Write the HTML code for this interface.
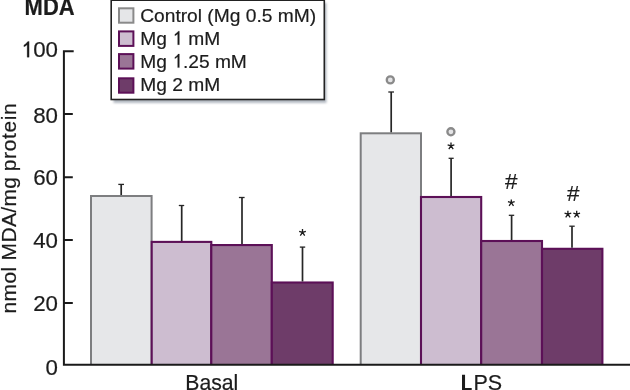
<!DOCTYPE html>
<html>
<head>
<meta charset="utf-8">
<title>MDA</title>
<style>
html,body{margin:0;padding:0;background:#fff;}
body{width:630px;height:390px;overflow:hidden;font-family:"Liberation Sans",sans-serif;}
svg{display:block;opacity:0.999;}
text{font-family:"Liberation Sans",sans-serif;fill:#1c1c1c;stroke:#1c1c1c;stroke-width:0.2px;}
</style>
</head>
<body>
<svg width="630" height="390" viewBox="0 0 630 390">
  <defs>
    <filter id="sh" x="-10%" y="-10%" width="130%" height="130%">
      <feGaussianBlur stdDeviation="0.8"/>
    </filter>
  </defs>
  <rect x="0" y="0" width="630" height="390" fill="#ffffff"/>

  <!-- title -->
  <text transform="translate(24.6 15.3) scale(1 1.06)" font-size="22" font-weight="bold" stroke-width="0">MDA</text>

  <!-- legend -->
  <rect x="113.5" y="3" width="213" height="100" fill="#b4bac2" filter="url(#sh)"/>
  <rect x="111.2" y="0.2" width="213.1" height="99.3" fill="#ffffff" stroke="#222222" stroke-width="1.6"/>
  <rect x="119" y="8.3" width="14.4" height="14.4" fill="#e5e6e8" stroke="#8a8a8a" stroke-width="2"/>
  <rect x="119" y="31.4" width="14.4" height="14.5" fill="#cdbdd0" stroke="#5c1057" stroke-width="2"/>
  <rect x="119" y="54.1" width="14.4" height="14.5" fill="#9a7596" stroke="#5c1057" stroke-width="2"/>
  <rect x="119" y="78.3" width="14.4" height="14.4" fill="#6e3c69" stroke="#5c1057" stroke-width="2"/>
  <g font-size="19.2">
  <text x="140.2" y="22.3">Control (Mg 0.5 mM)</text>
  <text x="140.2" y="44.7">Mg</text><path d="M763 0H583V1147Q530 1095 440 1040T285 955V1115Q410 1180 500 1275T647 1445H763Z" fill="#1c1c1c" stroke="#1c1c1c" stroke-width="24" transform="translate(172.21 44.7) scale(0.009375 -0.009375)"/><text x="188.22" y="44.7">mM</text>
  <text x="140.2" y="67.6">Mg</text><path d="M763 0H583V1147Q530 1095 440 1040T285 955V1115Q410 1180 500 1275T647 1445H763Z" fill="#1c1c1c" stroke="#1c1c1c" stroke-width="24" transform="translate(172.21 67.6) scale(0.009375 -0.009375)"/><text x="182.88" y="67.6">.25 mM</text>
  <text x="140.2" y="90.5">Mg 2 mM</text>
  </g>

  <clipPath id="cp"><rect x="0" y="0" width="630" height="364.75"/></clipPath>
  <g clip-path="url(#cp)">
  <!-- bars: Basal -->
  <rect x="91" y="196" width="60.6" height="170" fill="#e6e7e9" stroke="#7d7e80" stroke-width="2"/>
  <rect x="151.7" y="241.9" width="59.6" height="124" fill="#cdbdd0" stroke="#5c1057" stroke-width="2.1"/>
  <rect x="211.3" y="245.05" width="60.5" height="121" fill="#9a7596" stroke="#5c1057" stroke-width="2.1"/>
  <rect x="271.8" y="282.5" width="60.9" height="84" fill="#6e3c69" stroke="#5c1057" stroke-width="2.1"/>
  <!-- bars: LPS -->
  <rect x="360.7" y="133.3" width="60.3" height="233" fill="#e6e7e9" stroke="#7d7e80" stroke-width="2"/>
  <rect x="421" y="197" width="60.2" height="170" fill="#cdbdd0" stroke="#5c1057" stroke-width="2.1"/>
  <rect x="481.2" y="241" width="60.8" height="125" fill="#9a7596" stroke="#5c1057" stroke-width="2.1"/>
  <rect x="542" y="248.8" width="60.4" height="118" fill="#6e3c69" stroke="#5c1057" stroke-width="2.1"/>
  </g>

  <!-- error bars -->
  <g stroke="#262626" fill="none">
    <g stroke-width="1.7">
      <path d="M121.2 195V184.4"/>
      <path d="M181.7 241V205.5"/>
      <path d="M242 244V197.5"/>
      <path d="M302.5 281.5V247"/>
      <path d="M391.2 132.3V92"/>
      <path d="M451.1 196V158.3"/>
      <path d="M511.6 240V215.3"/>
      <path d="M572 247.8V226.2"/>
    </g>
    <g stroke-width="1.3">
      <path d="M118.3 184.4H124"/>
      <path d="M178.8 205.5H184.2"/>
      <path d="M238.9 197.5H244.6"/>
      <path d="M299.8 247.1H305.2"/>
      <path d="M388.3 92H394"/>
      <path d="M448.6 158.3H453.7"/>
      <path d="M508.8 215.3H514.2"/>
      <path d="M569.3 226.2H574.7"/>
    </g>
  </g>

  <!-- axes -->
  <g stroke="#1a1a1a" stroke-width="2" fill="none">
    <path d="M73.7 51.3H63.9V364.75H630"/>
    <path d="M64 114H72.8M64 177.2H72.8M64 239.9H72.8M64 303.1H72.8"/>
  </g>

  <!-- tick labels -->
  <g font-size="22.3" text-anchor="end">
    <path d="M763 0H583V1147Q530 1095 440 1040T285 955V1115Q410 1180 500 1275T647 1445H763Z" fill="#1c1c1c" stroke="#1c1c1c" stroke-width="24" transform="translate(20.80 57.2) scale(0.010889 -0.010889)"/>
    <text x="58" y="57.2">00</text>
    <text x="58" y="122.7">80</text>
    <text x="58" y="185.4">60</text>
    <text x="58" y="247.8">40</text>
    <text x="58" y="311.1">20</text>
    <text x="58" y="375">0</text>
  </g>

  <!-- y label -->
  <g stroke-width="0" transform="translate(16 313.4) rotate(-90)" font-size="21">
    <text x="0" y="0" letter-spacing="0.33" stroke-width="0">nmol MDA/mg</text>
    <text x="142.1" y="0" letter-spacing="0.65" stroke-width="0">protein</text>
  </g>

  <!-- x labels -->
  <g font-size="22" text-anchor="middle">
    <text x="211.8" y="390.3" font-size="21.2">Basal</text>
    <path d="M462 374.7H465.05V388.1H471.7V391H462Z" fill="#1c1c1c"/>
    <text x="473.45" y="390.2" text-anchor="start" font-size="21.5">PS</text>
  </g>

  <!-- symbols -->
  <path d="M0 0V-3.3M0 0L3.35 -1.05M0 0L-3.35 -1.05M0 0L2.2 3.2M0 0L-2.2 3.2" stroke="#1c1c1c" stroke-width="1.3" fill="none" transform="translate(302.5 232.4)"/>
  <path d="M0 0V-3.3M0 0L3.35 -1.05M0 0L-3.35 -1.05M0 0L2.2 3.2M0 0L-2.2 3.2" stroke="#1c1c1c" stroke-width="1.3" fill="none" transform="translate(451 145.9)"/>
  <path d="M0 0V-3.3M0 0L3.35 -1.05M0 0L-3.35 -1.05M0 0L2.2 3.2M0 0L-2.2 3.2" stroke="#1c1c1c" stroke-width="1.3" fill="none" transform="translate(511.3 202.7)"/>
  <path d="M0 0V-3.3M0 0L3.35 -1.05M0 0L-3.35 -1.05M0 0L2.2 3.2M0 0L-2.2 3.2" stroke="#1c1c1c" stroke-width="1.3" fill="none" transform="translate(567.9 214.1)"/>
  <path d="M0 0V-3.3M0 0L3.35 -1.05M0 0L-3.35 -1.05M0 0L2.2 3.2M0 0L-2.2 3.2" stroke="#1c1c1c" stroke-width="1.3" fill="none" transform="translate(576.7 214.1)"/>
  <g font-size="22" text-anchor="middle">
    <text x="511.2" y="189" font-size="22.5" stroke="#1c1c1c" stroke-width="0.65">#</text>
    <text x="573.2" y="201" font-size="22.5" stroke="#1c1c1c" stroke-width="0.65">#</text>
  </g>
  <g fill="#e4e4e6" stroke="#8a8a8a" stroke-width="2.3">
    <circle cx="390.3" cy="79.9" r="3.55"/>
    <circle cx="450.9" cy="131.8" r="3.55"/>
  </g>
</svg>
</body>
</html>
